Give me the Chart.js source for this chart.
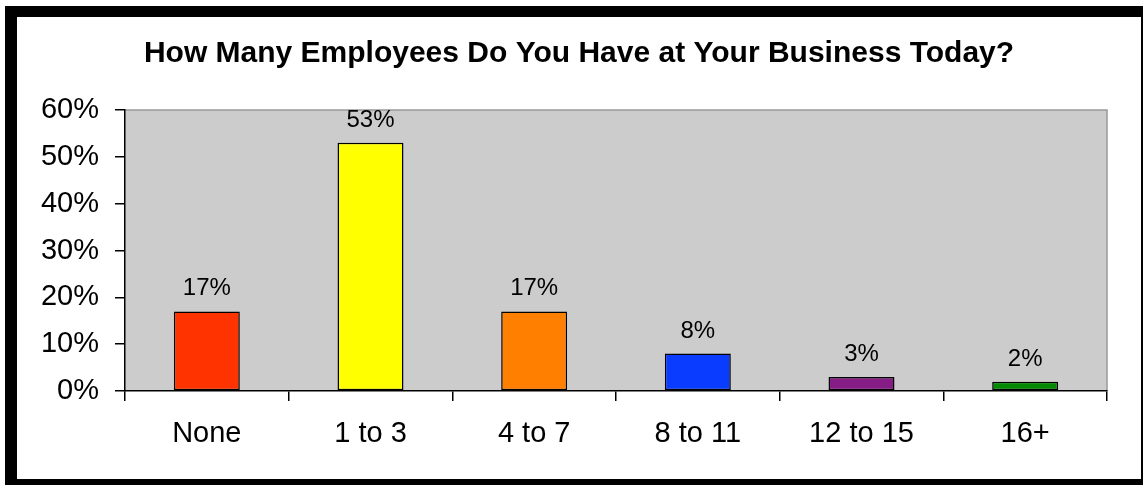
<!DOCTYPE html>
<html>
<head>
<meta charset="utf-8">
<script src="https://cdn.jsdelivr.net/npm/chart.js@4.4.0/dist/chart.umd.min.js"></script>
<style>
    body { margin: 0; background: #fff; }
    #frame {
        position: absolute;
        left: 5px;
        top: 6px;
        border-left: 12px solid #000;
        border-top: 11px solid #000;
        border-right: 2px solid #000;
        border-bottom: 6px solid #000;
        background: #fff;
        width: 1124px;
        height: 462px;
    }
    canvas { display: block; }
</style>
</head>
<body>
<div id="frame">
    <canvas id="employeesChart" width="1124" height="462"></canvas>
</div>
<script>
// Chart data
const chartTitle = 'How Many Employees Do You Have at Your Business Today?';
const categories = ['None', '1 to 3', '4 to 7', '8 to 11', '12 to 15', '16+'];
const percentages = [17, 53, 17, 8, 3, 2];
const barColors = ['#FF3300', '#FFFF00', '#FF8000', '#0A3CFF', '#861C86', '#008A00'];
const yTicks = [0, 10, 20, 30, 40, 50, 60];

const FONT = '"Liberation Sans", Arial, sans-serif';

// Grey plot background with light top/right border
const plotBackground = {
    id: 'plotBackground',
    beforeDraw(chart) {
        const { ctx, chartArea: a } = chart;
        ctx.save();
        ctx.fillStyle = '#CCCCCC';
        ctx.fillRect(a.left, a.top, a.right - a.left, a.bottom - a.top);
        ctx.strokeStyle = '#999999';
        ctx.lineWidth = 1.5;
        ctx.beginPath();
        ctx.moveTo(a.left, a.top);
        ctx.lineTo(a.right, a.top);
        ctx.lineTo(a.right, a.bottom);
        ctx.stroke();
        ctx.restore();
    }
};

// Title centred on the whole canvas (the built-in one centres between paddings)
const centeredTitle = {
    id: 'centeredTitle',
    afterDraw(chart) {
        const ctx = chart.ctx;
        ctx.save();
        ctx.font = 'bold 30px ' + FONT;
        ctx.fillStyle = '#000';
        ctx.textAlign = 'center';
        ctx.textBaseline = 'alphabetic';
        ctx.fillText(chartTitle, chart.width / 2, 45);
        ctx.restore();
    }
};

// Value labels above each bar
const valueLabels = {
    id: 'valueLabels',
    afterDatasetsDraw(chart) {
        const ctx = chart.ctx;
        const meta = chart.getDatasetMeta(0);
        ctx.save();
        ctx.font = '24px ' + FONT;
        ctx.fillStyle = '#000';
        ctx.textAlign = 'center';
        ctx.textBaseline = 'alphabetic';
        meta.data.forEach((bar, i) => {
            ctx.fillText(percentages[i] + '%', bar.x, bar.y - 16);
        });
        ctx.restore();
    }
};

const ctx = document.getElementById('employeesChart').getContext('2d');
new Chart(ctx, {
    type: 'bar',
    data: {
        labels: categories,
        datasets: [{
            data: percentages,
            backgroundColor: barColors,
            borderColor: '#000',
            borderWidth: 1.5,
            borderSkipped: false,
            barPercentage: 0.403,
            categoryPercentage: 1
        }]
    },
    options: {
        responsive: false,
        animation: false,
        devicePixelRatio: 1,
        layout: { padding: { left: 0, right: 34, top: 93, bottom: 0 } },
        plugins: {
            legend: { display: false },
            tooltip: { enabled: false },
            title: { display: false }
        },
        scales: {
            y: {
                min: yTicks[0],
                max: yTicks[yTicks.length - 1],
                afterBuildTicks: (scale) => {
                    scale.ticks = yTicks.map(v => ({ value: v }));
                },
                afterFit: (scale) => { scale.width = 108; },
                ticks: {
                    callback: (v) => v + '%',
                    color: '#000',
                    padding: 16,
                    font: { family: FONT, size: 29 }
                },
                grid: {
                    drawOnChartArea: false,
                    color: '#000',
                    tickColor: '#000',
                    tickLength: 10,
                    lineWidth: 1.5
                },
                border: { color: '#000', width: 1.5 }
            },
            x: {
                afterFit: (scale) => { scale.height = 88; },
                ticks: {
                    color: '#000',
                    padding: 16,
                    font: { family: FONT, size: 29 }
                },
                grid: {
                    offset: true,
                    drawOnChartArea: false,
                    color: '#000',
                    tickColor: '#000',
                    tickLength: 10,
                    lineWidth: 1.5
                },
                border: { color: '#000', width: 1.5 }
            }
        }
    },
    plugins: [plotBackground, valueLabels, centeredTitle]
});
</script>
</body>
</html>
